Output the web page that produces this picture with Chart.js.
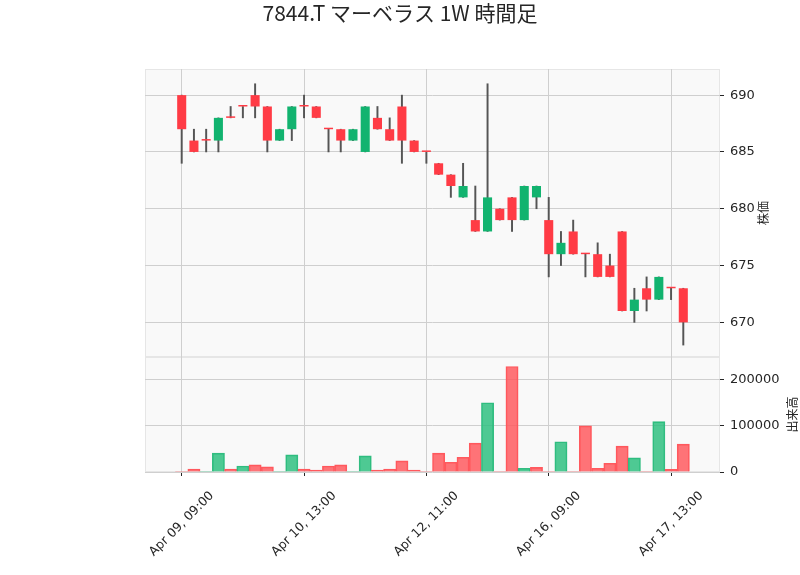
<!DOCTYPE html>
<html>
<head>
<meta charset="utf-8">
<script src="https://cdn.jsdelivr.net/npm/chart.js@4.4.1/dist/chart.umd.min.js"></script>
<style>
  html, body { margin: 0; padding: 0; background: #fff; }
</style>
</head>
<body>
<canvas id="chart" width="800" height="575"></canvas>
<script>
// 1時間足のOHLCと出来高
const opens  = [690, 686, 686, 686, 688, 689, 690, 689, 686, 687, 689, 689, 687, 687, 686, 685, 688, 687, 689, 686, 685,
                684, 683, 681, 679, 678, 680, 681, 679, 681, 679, 676, 678, 676, 676, 675, 678, 671, 673, 672, 673, 673];
const highs  = [690, 687, 687, 688, 689, 689, 691, 689, 687, 689, 690, 689, 687, 687, 687, 689, 689, 688, 690, 686, 685,
                684, 683, 684, 682, 691, 680, 681, 682, 682, 681, 678, 679, 676, 677, 676, 678, 673, 674, 674, 673, 673];
const lows   = [684, 685, 685, 685, 688, 688, 688, 685, 686, 686, 688, 688, 685, 685, 686, 685, 687, 686, 684, 685, 684,
                683, 681, 681, 678, 678, 679, 678, 679, 680, 674, 675, 676, 674, 674, 674, 671, 670, 671, 672, 672, 668];
const closes = [687, 685, 686, 688, 688, 689, 689, 686, 687, 689, 689, 688, 687, 686, 687, 689, 687, 686, 686, 685, 685,
                683, 682, 682, 678, 681, 679, 679, 682, 682, 676, 677, 676, 676, 674, 674, 671, 672, 672, 674, 673, 670];
const volumes = [0, 6500, 0, 40600, 6500, 13000, 15200, 10900, 0, 37000, 6500, 4300, 13000, 15200, 0, 34800, 4300, 6500, 23900, 4300, 0,
                 40600, 21000, 31900, 62300, 149300, 0, 227500, 8000, 10100, 0, 65200, 0, 99300, 8000, 18800, 55800, 30400, 0, 108700, 5800, 60100];

const tickIndices = [0, 10, 20, 30, 40];
const tickLabels = ['Apr 09, 09:00', 'Apr 10, 13:00', 'Apr 12, 11:00', 'Apr 16, 09:00', 'Apr 17, 13:00'];
const priceTicks = [670, 675, 680, 685, 690];
const volumeTicks = [0, 100000, 200000];

const chartTitle = '7844.T マーベラス 1W 時間足';
const priceTitle = '株価';
const volumeTitle = '出来高';

const UP = '#12b36f';
const DOWN = '#ff3b45';
const VOL_UP = 'rgba(40,190,125,0.82)';
const VOL_DOWN = 'rgba(255,85,90,0.82)';
const TEXT = '#262626';
const GRID = '#cfcfcf';
const FONT = "'DejaVu Sans', sans-serif";

const bodyColors = opens.map((o, i) => closes[i] > o ? UP : DOWN);
// 出来高は前の終値との比較で色分け
const volColors = closes.map((c, i) => (i > 0 && c > closes[i - 1]) ? VOL_UP : VOL_DOWN);
const volBorders = closes.map((c, i) => (i > 0 && c > closes[i - 1]) ? '#34bd82' : '#ff5a5f');

const panelPlugin = {
  id: 'panels',
  beforeDraw(chart) {
    const ctx = chart.ctx;
    const area = chart.chartArea;
    ctx.save();
    [chart.scales.y, chart.scales.yv].forEach(s => {
      ctx.fillStyle = '#f9f9f9';
      ctx.fillRect(area.left, s.top, area.right - area.left, s.bottom - s.top);
      ctx.strokeStyle = '#e6e6e6';
      ctx.lineWidth = 1;
      ctx.strokeRect(area.left + 0.5, s.top + 0.5, area.right - area.left - 1, s.bottom - s.top - 1);
    });
    ctx.restore();
  },
  afterDraw(chart) {
    const ctx = chart.ctx;
    const x = chart.scales.x;
    ctx.save();
    ctx.fillStyle = TEXT;

    ctx.font = "21px 'Noto Sans CJK JP', sans-serif";
    ctx.textAlign = 'center';
    ctx.textBaseline = 'middle';
    ctx.fillText(chartTitle, 400, 13);

    ctx.font = "12.5px " + FONT;
    tickIndices.forEach((idx, k) => {
      const px = x.getPixelForValue(idx);
      ctx.save();
      ctx.translate(px, 524);
      ctx.rotate(-Math.PI / 4);
      ctx.fillText(tickLabels[k], 0, 0);
      ctx.restore();
    });

    ctx.font = "12px 'Noto Sans CJK JP', sans-serif";
    const y = chart.scales.y, yv = chart.scales.yv;
    [[priceTitle, 763, (y.top + y.bottom) / 2], [volumeTitle, 792, (yv.top + yv.bottom) / 2]].forEach(([t, tx, ty]) => {
      ctx.save();
      ctx.translate(tx, ty);
      ctx.rotate(-Math.PI / 2);
      ctx.fillText(t, 0, 0);
      ctx.restore();
    });
    ctx.restore();
  }
};

function yAxis(weight, min, max, ticks) {
  return {
    type: 'linear',
    position: 'right',
    stack: 'main',
    stackWeight: weight,
    min: min,
    max: max,
    afterBuildTicks: s => { s.ticks = ticks.map(v => ({ value: v })); },
    afterFit: s => { s.width = 80; },
    border: { display: false },
    grid: { color: GRID, tickColor: TEXT, tickLength: 4, lineWidth: 1 },
    ticks: { color: TEXT, padding: 6, font: { family: FONT, size: 13 }, callback: v => String(v) }
  };
}

new Chart(document.getElementById('chart'), {
  type: 'bar',
  data: {
    datasets: [
      {
        label: 'body',
        data: opens.map((o, i) => ({ x: i, y: [o, closes[i]] })),
        backgroundColor: bodyColors,
        borderWidth: 0,
        barPercentage: 0.74,
        categoryPercentage: 1,
        minBarLength: 1.5,
        grouped: false,
        yAxisID: 'y',
        order: 1
      },
      {
        label: 'wick',
        data: lows.map((l, i) => ({ x: i, y: [l, highs[i]] })),
        backgroundColor: '#555555',
        borderWidth: 0,
        barThickness: 1.3,
        grouped: false,
        yAxisID: 'y',
        order: 2
      },
      {
        label: 'volume',
        data: volumes.map((v, i) => ({ x: i, y: v })),
        backgroundColor: volColors,
        borderColor: volBorders,
        borderWidth: c => volumes[c.dataIndex] > 0 ? 1 : 0,
        barPercentage: 1,
        categoryPercentage: 1,
        grouped: false,
        yAxisID: 'yv',
        order: 3
      }
    ]
  },
  options: {
    responsive: false,
    animation: false,
    layout: { padding: { left: 145, top: 69, right: 0, bottom: 0 } },
    plugins: { legend: { display: false }, tooltip: { enabled: false }, title: { display: false } },
    scales: {
      x: {
        type: 'linear',
        min: -3,
        max: 44,
        offset: false,
        afterBuildTicks: s => { s.ticks = tickIndices.map(v => ({ value: v })); },
        afterFit: s => { s.height = 103; },
        border: { display: false },
        grid: { offset: false, color: GRID, tickColor: TEXT, tickLength: 4 },
        ticks: { display: false }
      },
      y: yAxis(288, 666.95, 692.3, priceTicks),
      yv: yAxis(115, 0, 248000, volumeTicks)
    }
  },
  plugins: [panelPlugin]
});
</script>
</body>
</html>
